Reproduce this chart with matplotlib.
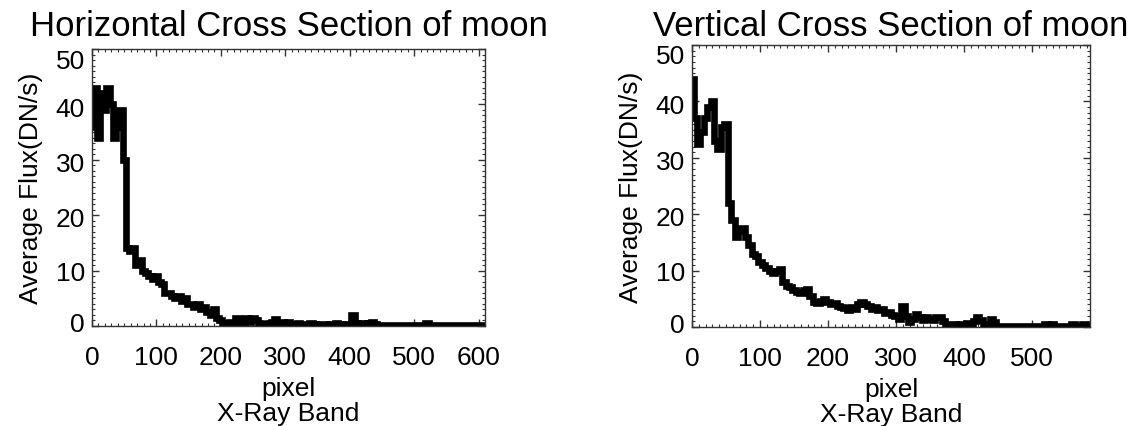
import numpy as np
import matplotlib
matplotlib.use("Agg")
import matplotlib.pyplot as plt
import matplotlib.transforms as mtransforms
from matplotlib.ticker import MultipleLocator

plt.rcParams["font.family"] = ["Liberation Sans", "DejaVu Sans"]

# ---- data (5-pixel steps) ----
h_pixel = np.arange(0, 610, 5)
h_flux = [
    36, 43, 34, 42, 39, 43, 40, 34, 36, 39,
    30, 14, 13.5, 14, 11, 12, 10, 9.5, 9, 8.5,
    9, 8, 7.5, 6, 6, 5.5, 5, 5.5, 4.5, 5,
    4, 4, 3.5, 4, 3, 3.5, 2.5, 2, 3, 1.5,
    1, 0.5, 0.5, 0.8, 0.3, 1.5, 0.5, 0.8, 1.5, 0.8,
    1.5, 1, 0.5, 0, 0.3, 0.5, 0.8, 1.2, 0.5, 0.8,
    0.4, 0.8, 0.3, 0.2, 0.5, 0.3, 0.2, 0.2, 0.5, 0.3,
    0.2, 0.4, 0.3, 0.2, 0.3, 0.2, 0.5, 0.3, 0.2, 0.3,
    0.4, 2, 0.5, 0.2, 0.5, 0.3, 0.6, 0.8, 0.3, 0.2,
    0.1, 0.1, 0.2, 0.1, 0.1, 0.1, 0.2, 0.1, 0.1, 0.1,
    0.1, 0.2, 0.1, 0.1, 0.6, 0.2, 0.1, 0.1, 0.1, 0.1,
    0.1, 0.1, 0.1, 0.1, 0.1, 0.1, 0.1, 0.1, 0.1, 0.1,
    0.1, 0.1,
]

v_pixel = np.arange(0, 590, 5)
v_flux = [
    44, 37, 32.5, 34.5, 37, 39, 40, 33, 31.5, 35.5,
    36, 22, 19, 16, 17, 17.5, 16, 14.5, 13, 12.5,
    11.5, 11, 10.5, 10, 9.5, 10, 10.3, 8, 7.3, 7,
    6.5, 6.2, 6, 6.5, 6.8, 5.5, 4.5, 4.2, 4.6, 5,
    4.5, 4, 4.2, 3.8, 3.5, 3.3, 3, 3.5, 3.2, 4,
    4.4, 4, 3.8, 3.2, 3.5, 3, 3.2, 2.5, 2.6, 2.2,
    2, 1.5, 3.8, 2, 0.8, 1.5, 2.3, 1.8, 1.2, 1.7,
    1.5, 1.2, 1.7, 1.7, 1, 0.5, 0.5, 0.5, 0.4, 0.6,
    0.5, 0.7, 0.5, 1, 1.7, 1.2, 0.5, 0.6, 1.4, 0.8,
    0.2, 0.2, 0.2, 0.2, 0.2, 0.2, 0.2, 0.2, 0.2, 0.2,
    0.2, 0.2, 0.2, 0.2, 0.5, 0.3, 0.5, 0.2, 0.2, 0.2,
    0.2, 0.2, 0.5, 0.2, 0.2, 0.5, 0.2, 0.4,
]

y_ticks = [0, 10, 20, 30, 40, 50]
# small vertical nudges (px) of y tick labels, as in the reference
y_label_shift = [4, 0, -1, -2, -2, -9]

panels = [
    ("Horizontal Cross Section of moon", h_pixel, h_flux, 610, [0.0809, 0.2342, 0.3457, 0.6487]),
    ("Vertical Cross Section of moon", v_pixel, v_flux, 585, [0.6086, 0.2319, 0.3501, 0.6604]),
]

fig = plt.figure(figsize=(11.37, 4.27), dpi=100)

for title, xs, ys, xmax, rect in panels:
    ax = fig.add_axes(rect)
    ax.plot(xs, ys, color="black", lw=4.8, drawstyle="steps-mid",
            solid_joinstyle="miter")
    ax.set_xlim(0, xmax)
    ax.set_ylim(0, 50)
    ax.xaxis.set_major_locator(MultipleLocator(100))
    ax.xaxis.set_minor_locator(MultipleLocator(10))
    ax.set_yticks(y_ticks)
    ax.yaxis.set_minor_locator(MultipleLocator(1))
    ax.tick_params(which="both", direction="in", top=True, right=True,
                   colors="#333333", labelcolor="black")
    ax.tick_params(which="major", length=5, width=1)
    ax.tick_params(which="minor", length=2.5, width=0.8)
    ax.tick_params(axis="x", labelsize=19, pad=14)
    ax.tick_params(axis="y", labelsize=19, pad=5)
    for tick, dy in zip(ax.yaxis.get_major_ticks(), y_label_shift):
        off = mtransforms.ScaledTranslation(0, dy / 100, fig.dpi_scale_trans)
        tick.label1.set_transform(tick.label1.get_transform() + off)
    for s in ax.spines.values():
        s.set_color("#333333")
        s.set_linewidth(1)
    ax.set_ylabel("Average Flux(DN/s)", fontsize=19, labelpad=9)
    ax.set_xlabel("pixel\nX-Ray Band", fontsize=19, linespacing=1.05, labelpad=5)
    cx = rect[0] + rect[2] / 2
    fig.text(cx, 1 - 36 / 427, title, ha="center", va="baseline", fontsize=25)

fig.savefig("out.png", dpi=100)
